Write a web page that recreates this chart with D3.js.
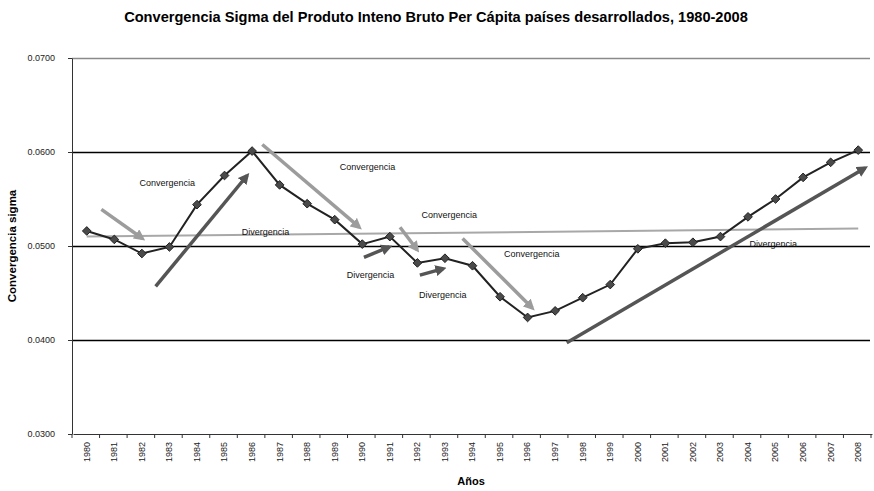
<!DOCTYPE html>
<html>
<head>
<meta charset="utf-8">
<script src="https://cdn.jsdelivr.net/npm/d3@7"></script>
<style>
  body { margin: 0; background: #fff; }
  svg { font-family: "Liberation Sans", Arial, sans-serif; }
</style>
</head>
<body>
<div id="chart"></div>
<script>
var w = 874
var h = 491
var margin = {top: 58, right: 2, bottom: 57, left: 73}

// data
var years = ["1980","1981","1982","1983","1984","1985","1986","1987","1988","1989","1990","1991","1992","1993","1994","1995","1996","1997","1998","1999","2000","2001","2002","2003","2004","2005","2006","2007","2008"]
var sigma = [0.0516,0.0507,0.0492,0.0499,0.0544,0.0575,0.0601,0.0565,0.0545,0.0528,0.0502,0.0510,0.0482,0.0487,0.0479,0.0446,0.0424,0.0431,0.0445,0.0459,0.0497,0.0503,0.0504,0.0510,0.0531,0.0550,0.0573,0.0589,0.0602]
var yTicks = [0.03, 0.04, 0.05, 0.06, 0.07]
// linear trend, start and end
var trend = [[1980, 0.0510], [2008, 0.05185]]

// annotation arrows: [x0, y0, x1, y1, tone]
var arrows = [
    [1980.53, 0.0539, 1982.02, 0.0508, "light"],
    [1982.5, 0.0457, 1985.82, 0.0575, "dark"],
    [1986.37, 0.0608, 1989.89, 0.0520, "light"],
    [1990.06, 0.0488, 1990.98, 0.0499, "dark"],
    [1991.37, 0.0520, 1991.99, 0.0496, "light"],
    [1992.09, 0.0469, 1992.94, 0.0476, "dark"],
    [1993.64, 0.0508, 1996.17, 0.0434, "light"],
    [1997.42, 0.0397, 2008.25, 0.0583, "dark"]
]
// annotation labels: [x, y, text]
var notes = [
    [1982.92, 0.05667, "Convergencia"],
    [1986.49, 0.05152, "Divergencia"],
    [1990.19, 0.05844, "Convergencia"],
    [1993.16, 0.0533, "Convergencia"],
    [1990.3, 0.04691, "Divergencia"],
    [1992.92, 0.04479, "Divergencia"],
    [1996.15, 0.04915, "Convergencia"],
    [2004.92, 0.05018, "Divergencia"]
]

var svg = d3.select("#chart").append("svg").attr("width", w).attr("height", h)

var x = d3.scaleBand().domain(years).range([margin.left, w - margin.right])
var xl = d3.scaleLinear()
    .domain([+years[0], +years[years.length - 1]])
    .range([x(years[0]) + x.bandwidth() / 2, x(years[years.length - 1]) + x.bandwidth() / 2])
var y = d3.scaleLinear().domain([0.03, 0.07]).range([h - margin.bottom, margin.top])

// arrowheads
var defs = svg.append("defs")
var tones = {light: "#9c9c9c", dark: "#555555"}
Object.keys(tones).forEach(function(k) {
    defs.append("marker")
        .attr("id", "head-" + k)
        .attr("viewBox", "0 0 10 10")
        .attr("refX", 7).attr("refY", 5)
        .attr("markerWidth", 3.2).attr("markerHeight", 3.2)
        .attr("orient", "auto")
        .append("path")
        .attr("d", "M0,0 L10,5 L0,10 Z")
        .attr("fill", tones[k])
})

// gridlines
svg.append("g").selectAll("line")
    .data(yTicks.slice(1))
    .enter().append("line")
    .attr("x1", margin.left - 1).attr("x2", w - margin.right - 2)
    .attr("y1", function(d) { return Math.round(y(d)) + 0.5 }).attr("y2", function(d) { return Math.round(y(d)) + 0.5 })
    .attr("stroke", function(d) { return d == 0.07 ? "#8a8a8a" : "#000" })
    .attr("stroke-width", 1.3)

// y axis
var yAxis = svg.append("g")
    .attr("transform", "translate(" + (margin.left - 1) + ",0)")
    .call(d3.axisLeft(y).tickValues(yTicks).tickFormat(d3.format(".4f")).tickSize(4).tickSizeOuter(0))
yAxis.select(".domain").attr("stroke", "#333")
yAxis.selectAll(".tick line").attr("stroke", "#333")
yAxis.selectAll("text").attr("font-size", 9).attr("fill", "#222").attr("font-family", "Liberation Sans, Arial").attr("dx", "-10")

// x axis
var xAxis = svg.append("g")
    .attr("transform", "translate(0," + (h - margin.bottom) + ")")
    .call(d3.axisBottom(x).tickSize(0))
xAxis.select(".domain").attr("stroke", "#333")
xAxis.selectAll("text")
    .attr("font-size", 9).attr("fill", "#222").attr("font-family", "Liberation Sans, Arial")
    .attr("transform", "rotate(-90)")
    .attr("text-anchor", "end")
    .attr("x", -8).attr("y", 0).attr("dy", "0.32em")
// ticks at band edges
svg.append("g").selectAll("line")
    .data(years.concat(["end"]))
    .enter().append("line")
    .attr("x1", function(d, i) { return margin.left - 1 + i * x.step() })
    .attr("x2", function(d, i) { return margin.left - 1 + i * x.step() })
    .attr("y1", h - margin.bottom).attr("y2", h - margin.bottom + 4)
    .attr("stroke", "#333")

// trend line
svg.append("line")
    .attr("x1", xl(trend[0][0])).attr("y1", y(trend[0][1]))
    .attr("x2", xl(trend[1][0])).attr("y2", y(trend[1][1]))
    .attr("stroke", "#a8a8a8").attr("stroke-width", 2)

// arrows
svg.append("g").selectAll("line")
    .data(arrows)
    .enter().append("line")
    .attr("x1", function(d) { return xl(d[0]) }).attr("y1", function(d) { return y(d[1]) })
    .attr("x2", function(d) { return xl(d[2]) }).attr("y2", function(d) { return y(d[3]) })
    .attr("stroke", function(d) { return tones[d[4]] })
    .attr("stroke-width", 3.5)
    .attr("marker-end", function(d) { return "url(#head-" + d[4] + ")" })

// series line
var line = d3.line()
    .x(function(d, i) { return x(years[i]) + x.bandwidth() / 2 })
    .y(function(d) { return y(d) })
svg.append("path")
    .datum(sigma)
    .attr("d", line)
    .attr("fill", "none")
    .attr("stroke", "#222")
    .attr("stroke-width", 2)

svg.append("g").selectAll("path")
    .data(sigma)
    .enter().append("path")
    .attr("d", d3.symbol().type(d3.symbolDiamond2).size(48))
    .attr("transform", function(d, i) { return "translate(" + (x(years[i]) + x.bandwidth() / 2) + "," + y(d) + ")" })
    .attr("fill", "#4a4a4a")
    .attr("stroke", "#222")
    .attr("stroke-width", 1)

// annotation labels
svg.append("g").selectAll("text")
    .data(notes)
    .enter().append("text")
    .text(function(d) { return d[2] })
    .attr("x", function(d) { return xl(d[0]) })
    .attr("y", function(d) { return y(d[1]) })
    .attr("dy", "0.35em")
    .attr("text-anchor", "middle")
    .attr("font-size", 9)
    .attr("fill", "#111")

// titles
svg.append("text")
    .text("Convergencia Sigma del Produto Inteno Bruto Per Cápita países desarrollados, 1980-2008")
    .attr("x", 436).attr("y", 22)
    .attr("text-anchor", "middle")
    .attr("font-size", 14.6)
    .attr("font-weight", "bold")

svg.append("text")
    .text("Convergencia sigma")
    .attr("transform", "translate(16,246) rotate(-90)")
    .attr("text-anchor", "middle")
    .attr("font-size", 11.5)
    .attr("font-weight", "bold")

svg.append("text")
    .text("Años")
    .attr("x", 471).attr("y", 485)
    .attr("text-anchor", "middle")
    .attr("font-size", 11)
    .attr("font-weight", "bold")
</script>
</body>
</html>
